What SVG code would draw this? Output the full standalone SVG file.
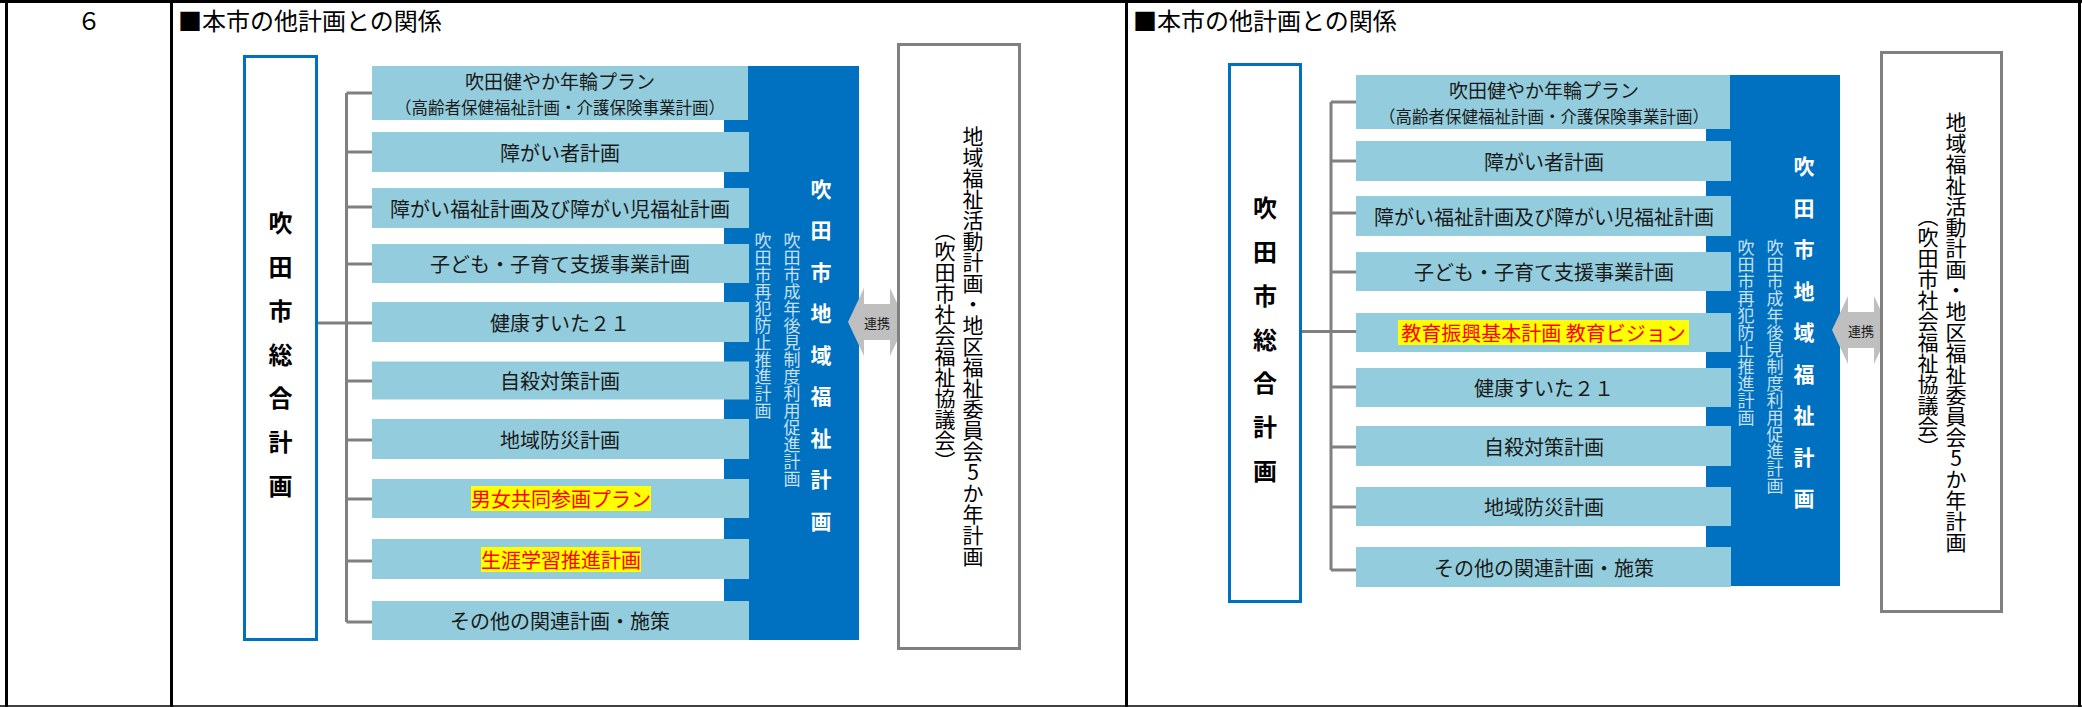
<svg xmlns="http://www.w3.org/2000/svg" width="2082" height="707" viewBox="0 0 2082 707">
<style>
text{font-family:"Noto Sans CJK JP","Noto Sans CJK SC",sans-serif}
.tbl{stroke:#000;stroke-width:3;fill:none}
.row{fill:#93CDDD}
.band{fill:#0070C0}
.lbox{fill:#fff;stroke:#0070C0;stroke-width:3}
.rbox{fill:#fff;stroke:#808080;stroke-width:3}
.arrow{fill:#BFBFBF}
.conn{stroke:#808080;stroke-width:3;fill:none}
.hl{fill:#FFFF00}
.rt{font-size:20px;fill:#1a1a1a;text-anchor:middle;dominant-baseline:central}
.l1{font-size:19px}
.l2{font-size:16.5px}
.red{fill:#FF0000}
.title{font-size:24px;fill:#000;dominant-baseline:central}
.big{font-size:21px;fill:#fff;font-weight:bold;text-anchor:middle;dominant-baseline:central}
.sm{font-size:17px;fill:#C9E0F3;writing-mode:vertical-rl;text-anchor:start}
.boxv{font-size:24px;fill:#000;font-weight:bold;text-anchor:middle;dominant-baseline:central}
.rv{font-size:21px;fill:#000;writing-mode:vertical-rl;text-anchor:middle}
.lk{font-size:13px;fill:#1a1a1a;text-anchor:middle;dominant-baseline:central}
</style>

<g id="table">
<line class="tbl" x1="0" y1="1.5" x2="2082" y2="1.5"/>
<line x1="0" y1="706" x2="2082" y2="706" stroke="#000" stroke-width="1.5"/>
<line class="tbl" x1="6.5" y1="0" x2="6.5" y2="707"/>
<line class="tbl" x1="171.5" y1="0" x2="171.5" y2="707"/>
<line class="tbl" x1="1126.5" y1="0" x2="1126.5" y2="707"/>
<line class="tbl" x1="2079.5" y1="0" x2="2079.5" y2="707"/>
<text x="89" y="19" class="title" text-anchor="middle">６</text>
<text x="178" y="19" class="title">■本市の他計画との関係</text>
<text x="1133" y="19" class="title">■本市の他計画との関係</text>
</g>

<!-- LEFT PANEL -->
<g id="connectors-left">
<path class="conn" d="M346.5,93 V622 M317,323 H346.5 M346.5,93 H372 M346.5,152 H372 M346.5,207 H372 M346.5,264 H372 M346.5,381 H372 M346.5,440 H372 M346.5,499 H372 M346.5,561 H372 M346.5,622 H372 M346.5,323 H372"/>
</g>

<g id="L-sogo">
<rect class="lbox" x="244.5" y="56.5" width="72" height="583"/>
<text class="boxv"><tspan x="280.5" y="221">吹</tspan><tspan x="280.5" y="265">田</tspan><tspan x="280.5" y="309">市</tspan><tspan x="280.5" y="353">総</tspan><tspan x="280.5" y="396">合</tspan><tspan x="280.5" y="440">計</tspan><tspan x="280.5" y="484">画</tspan></text>
</g>

<g id="L-band">
<rect class="band" x="724" y="66" width="135" height="574"/>
<text class="big"><tspan x="821" y="187.5">吹</tspan><tspan x="821" y="229">田</tspan><tspan x="821" y="270.5">市</tspan><tspan x="821" y="312">地</tspan><tspan x="821" y="353.5">域</tspan><tspan x="821" y="395">福</tspan><tspan x="821" y="436.5">祉</tspan><tspan x="821" y="478">計</tspan><tspan x="821" y="519.5">画</tspan></text>
<text class="sm" x="792" y="232">吹田市成年後見制度利用促進計画</text>
<text class="sm" x="763" y="232">吹田市再犯防止推進計画</text>
</g>

<g id="L-r1"><rect class="row" x="372" y="66" width="376" height="54"/><text class="rt l1" x="560" y="80.5">吹田健やか年輪プラン</text><text class="rt l2" x="560" y="106.5">（高齢者保健福祉計画・介護保険事業計画）</text></g>
<g id="L-r2"><rect class="row" x="372" y="132" width="377" height="40"/><text class="rt" x="560" y="152">障がい者計画</text></g>
<g id="L-r3"><rect class="row" x="372" y="188" width="377" height="40"/><text class="rt" x="560" y="208">障がい福祉計画及び障がい児福祉計画</text></g>
<g id="L-r4"><rect class="row" x="372" y="244" width="377" height="39"/><text class="rt" x="560" y="263.5">子ども・子育て支援事業計画</text></g>
<g id="L-r5"><rect class="row" x="372" y="302" width="377" height="40"/><text class="rt" x="560" y="322">健康すいた２１</text></g>
<g id="L-r6"><rect class="row" x="372" y="361.5" width="377" height="38"/><text class="rt" x="560" y="380.5">自殺対策計画</text></g>
<g id="L-r7"><rect class="row" x="372" y="419" width="377" height="40"/><text class="rt" x="560" y="439">地域防災計画</text></g>
<g id="L-r8"><rect class="row" x="372" y="479" width="377" height="39"/><rect class="hl" x="471" y="486" width="180" height="25"/><text class="rt red" x="561" y="498.5">男女共同参画プラン</text></g>
<g id="L-r9"><rect class="row" x="372" y="539" width="377" height="40"/><rect class="hl" x="481" y="547" width="160" height="25"/><text class="rt red" x="561" y="559">生涯学習推進計画</text></g>
<g id="L-r10"><rect class="row" x="372" y="601" width="377" height="39"/><text class="rt" x="560" y="620.5">その他の関連計画・施策</text></g>

<g id="L-link">
<polygon class="arrow" points="848,322 864,288 864,304 890,304 890,288 906,322 890,356 890,340 864,340 864,356"/>
<text class="lk" x="877" y="322">連携</text>
</g>

<g id="L-katsudo">
<rect class="rbox" x="898.5" y="44.5" width="121" height="604"/>
<text class="rv" x="973" y="346" style="text-orientation:upright">地域福祉活動計画・地区福祉委員会5か年計画</text>
<text class="rv" x="945" y="346">（吹田市社会福祉協議会）</text>
</g>

<!-- RIGHT PANEL -->
<g id="connectors-right">
<path class="conn" d="M1331,102 V570 M1301,331.5 H1331 M1331,102 H1356 M1331,161 H1356 M1331,213 H1356 M1331,272 H1356 M1331,331.5 H1356 M1331,387 H1356 M1331,447 H1356 M1331,507 H1356 M1331,570 H1356"/>
</g>

<g id="R-sogo">
<rect class="lbox" x="1229.5" y="64.5" width="71" height="537"/>
<text class="boxv"><tspan x="1265" y="206">吹</tspan><tspan x="1265" y="250">田</tspan><tspan x="1265" y="294">市</tspan><tspan x="1265" y="337.5">総</tspan><tspan x="1265" y="381">合</tspan><tspan x="1265" y="425">計</tspan><tspan x="1265" y="469">画</tspan></text>
</g>

<g id="R-band">
<rect class="band" x="1706" y="75" width="134" height="511"/>
<text class="big"><tspan x="1804" y="165">吹</tspan><tspan x="1804" y="206.5">田</tspan><tspan x="1804" y="248">市</tspan><tspan x="1804" y="289.5">地</tspan><tspan x="1804" y="331">域</tspan><tspan x="1804" y="372.5">福</tspan><tspan x="1804" y="414">祉</tspan><tspan x="1804" y="455.5">計</tspan><tspan x="1804" y="497">画</tspan></text>
<text class="sm" x="1775" y="239">吹田市成年後見制度利用促進計画</text>
<text class="sm" x="1746" y="239">吹田市再犯防止推進計画</text>
</g>

<g id="R-r1"><rect class="row" x="1356" y="75" width="374" height="54"/><text class="rt l1" x="1544" y="89.5">吹田健やか年輪プラン</text><text class="rt l2" x="1544" y="115.5">（高齢者保健福祉計画・介護保険事業計画）</text></g>
<g id="R-r2"><rect class="row" x="1356" y="141" width="375" height="40"/><text class="rt" x="1544" y="161">障がい者計画</text></g>
<g id="R-r3"><rect class="row" x="1356" y="196" width="375" height="40"/><text class="rt" x="1544" y="216">障がい福祉計画及び障がい児福祉計画</text></g>
<g id="R-r4"><rect class="row" x="1356" y="252" width="375" height="39"/><text class="rt" x="1544" y="271.5">子ども・子育て支援事業計画</text></g>
<g id="R-r5"><rect class="row" x="1356" y="313" width="375" height="39"/><rect class="hl" x="1398" y="320" width="291" height="25"/><text class="rt red" x="1543.5" y="332.5">教育振興基本計画 教育ビジョン</text></g>
<g id="R-r6"><rect class="row" x="1356" y="368" width="375" height="39"/><text class="rt" x="1544" y="387.5">健康すいた２１</text></g>
<g id="R-r7"><rect class="row" x="1356" y="426" width="375" height="40"/><text class="rt" x="1544" y="446">自殺対策計画</text></g>
<g id="R-r8"><rect class="row" x="1356" y="487" width="375" height="39"/><text class="rt" x="1544" y="506.5">地域防災計画</text></g>
<g id="R-r9"><rect class="row" x="1356" y="547" width="375" height="40"/><text class="rt" x="1544" y="567">その他の関連計画・施策</text></g>

<g id="R-link">
<polygon class="arrow" points="1832,330 1848,296 1848,312 1874,312 1874,296 1890,330 1874,364 1874,348 1848,348 1848,364"/>
<text class="lk" x="1861" y="330">連携</text>
</g>

<g id="R-katsudo">
<rect class="rbox" x="1881.5" y="52.5" width="120" height="559"/>
<text class="rv" x="1956" y="332" style="text-orientation:upright">地域福祉活動計画・地区福祉委員会5か年計画</text>
<text class="rv" x="1928" y="332">（吹田市社会福祉協議会）</text>
</g>
</svg>
